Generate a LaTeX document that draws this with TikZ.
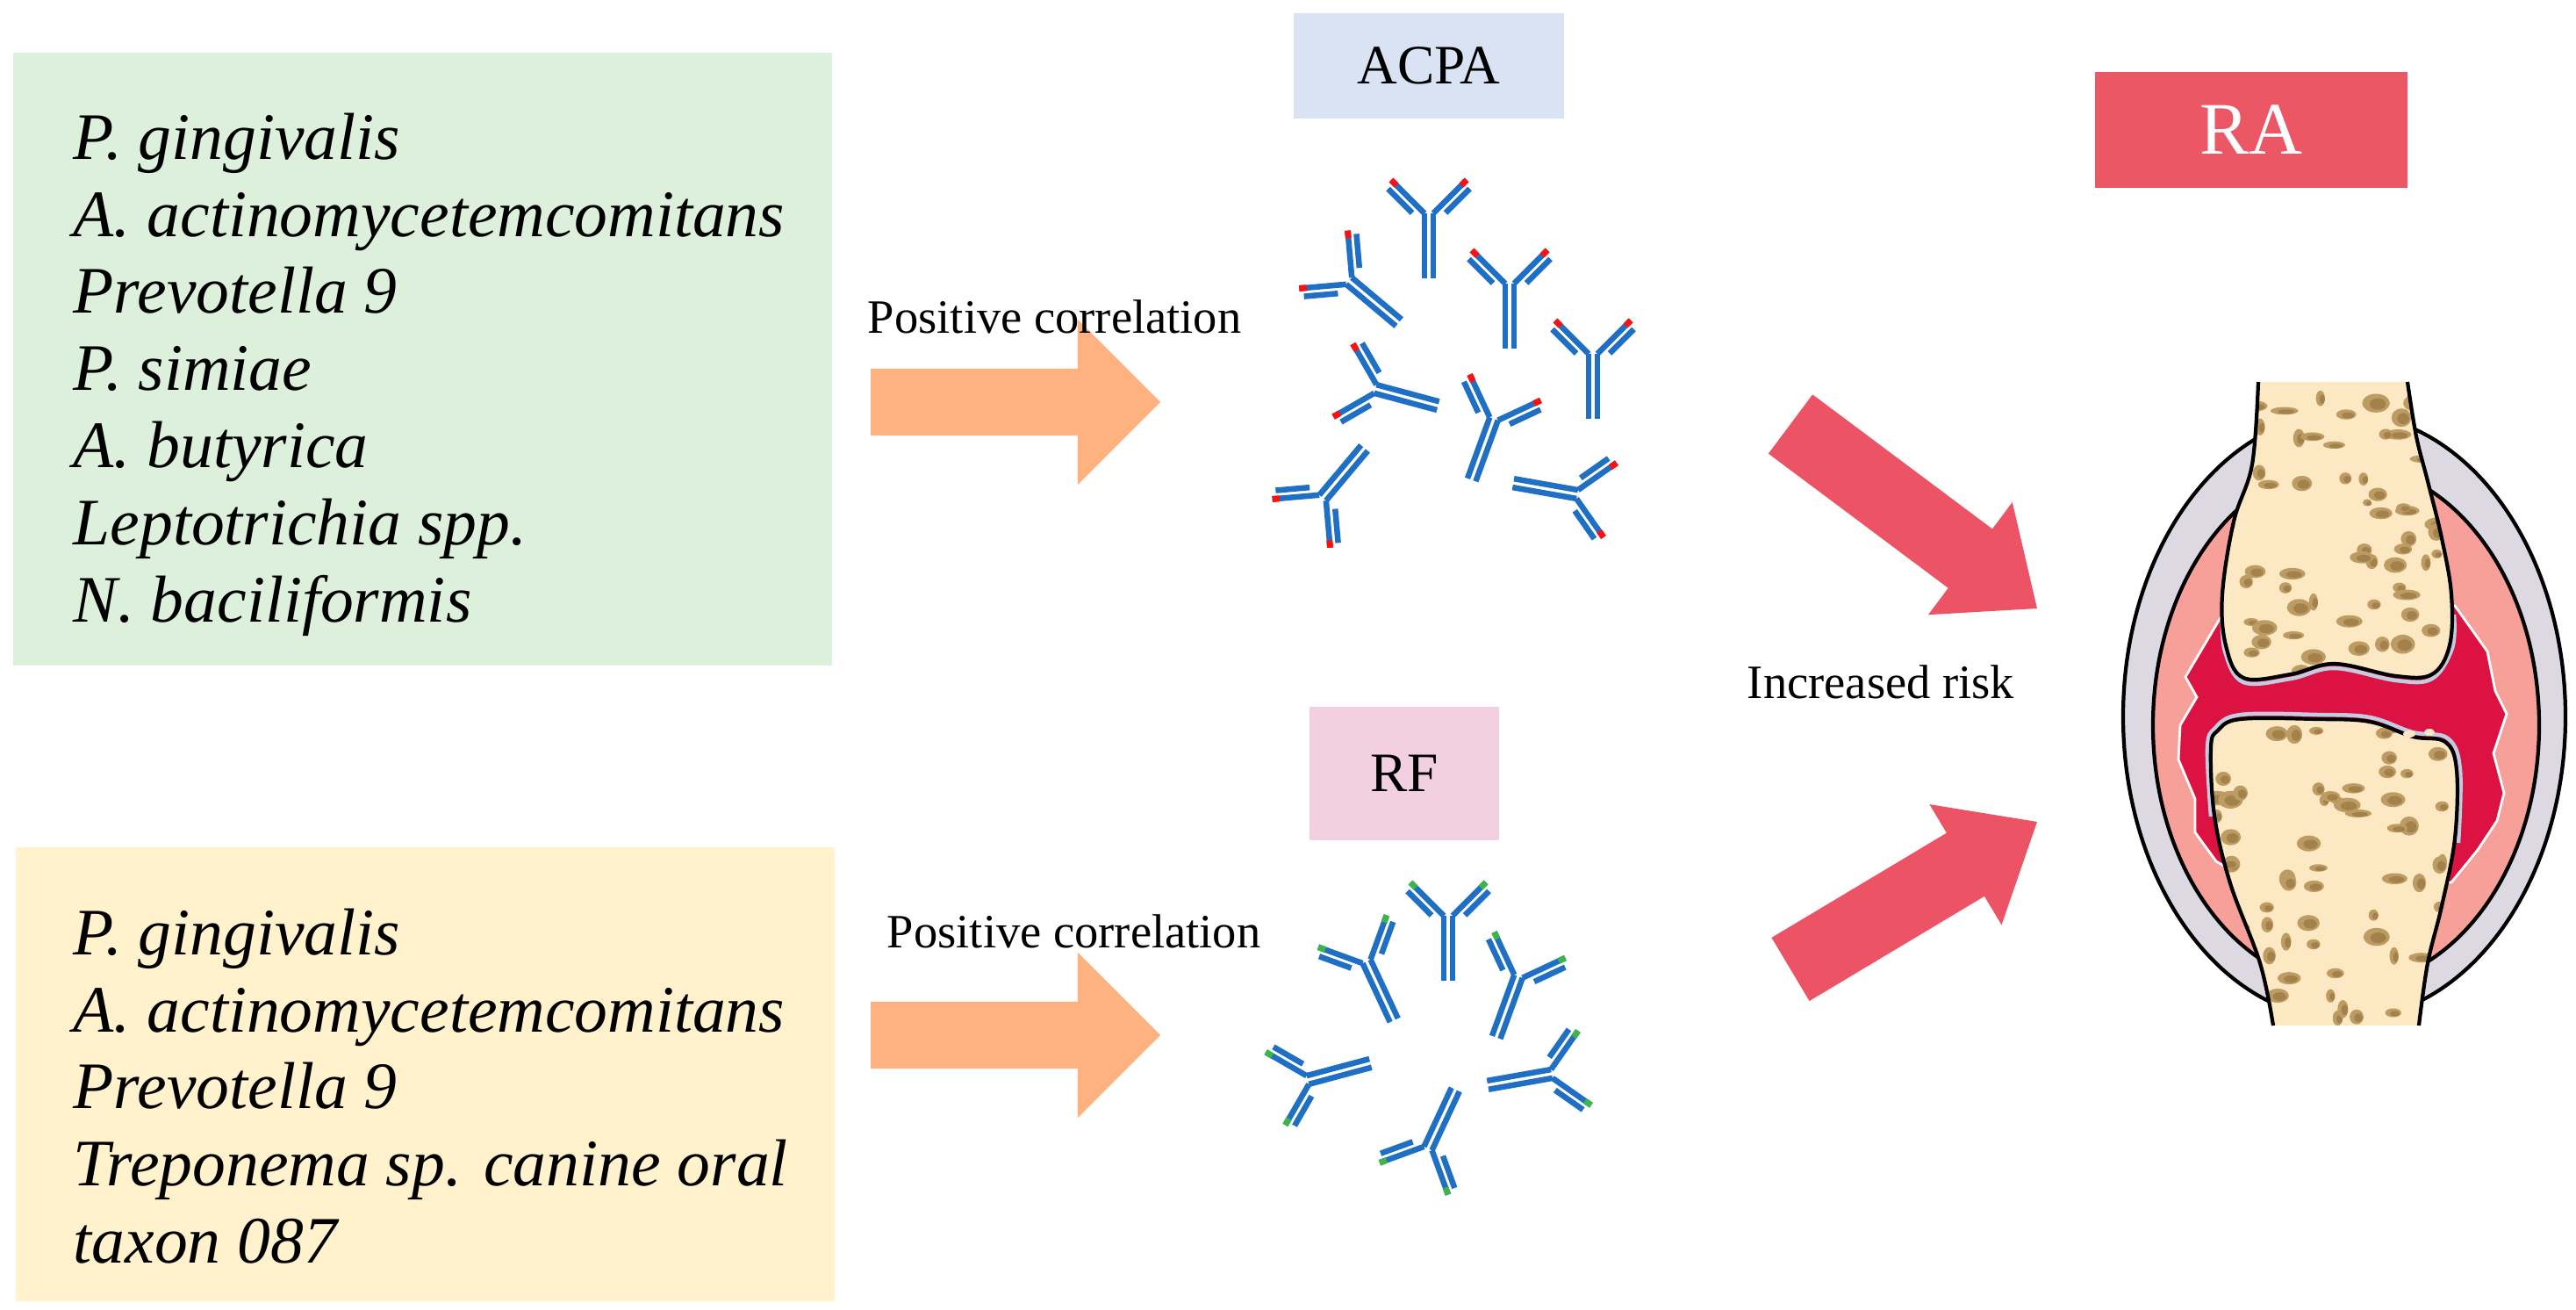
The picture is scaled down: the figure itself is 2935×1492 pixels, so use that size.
\documentclass[tikz,border=0pt]{standalone}
\usepackage{fontspec}
\setmainfont{Liberation Serif}
\usetikzlibrary{calc}
\definecolor{gbox}{HTML}{DDF0DC}
\definecolor{ybox}{HTML}{FFF2CC}
\definecolor{acpabox}{HTML}{DAE3F3}
\definecolor{rfbox}{HTML}{F3D0DF}
\definecolor{rabox}{HTML}{EC5766}
\definecolor{orarr}{HTML}{FFB27F}
\definecolor{redarr}{HTML}{EC5466}
\definecolor{abblue}{HTML}{1F6FC5}
\definecolor{tipred}{HTML}{FF1010}
\definecolor{tipgreen}{HTML}{3DB54A}
\definecolor{capsule}{HTML}{DDD9E2}
\definecolor{synpink}{HTML}{F7A09A}
\definecolor{synred}{HTML}{DC1242}
\definecolor{bone}{HTML}{FCE9C4}
\definecolor{spotA}{HTML}{BC9C62}
\definecolor{spotB}{HTML}{8E6C38}
\definecolor{cart}{HTML}{C4CAE0}
\newcommand\blockarr[6]{%
  \coordinate (ba-N) at ($(#2)!#5!(#1)$);
  \fill[#6] ($(#1)!#3!90:(#2)$) -- ($(ba-N)!#3!90:(#2)$) -- ($(ba-N)!#4!90:(#2)$)
    -- (#2) -- ($(ba-N)!#4!-90:(#2)$) -- ($(ba-N)!#3!-90:(#2)$) -- ($(#1)!#3!-90:(#2)$) -- cycle;}
\tikzset{
  species/.style={align=left,anchor=north west,font=\fontsize{21.5}{25}\selectfont\itshape,inner sep=0pt},
  lbl/.style={font=\fontsize{15.5}{17}\selectfont,inner sep=0pt},
  abl/.style={abblue,line width=0.065cm,line cap=butt},
  pics/ab/.style={code={
    \draw[abl] (-5,0)--(-5,74) (5,0)--(5,74);
    \draw[abl] (5,0)--(43,-38) (19,-0.5)--(46.5,-28);
    \draw[abl] (-5,0)--(-43,-38) (-19,-0.5)--(-46.5,-28);
    \draw[#1,line width=0.07cm] (37,-32)--(43,-38) (-37,-32)--(-43,-38);
  }}
}
\def\upperbone{plot[smooth,tension=0.6] coordinates {(2573,435) (2566,529) (2545,594) (2532,677) (2536,735) (2556,772) (2610,768) (2660,756) (2730,770) (2771,768) (2791,735) (2793,677) (2782,613) (2766,548) (2753,497) (2743,435)}}
\def\lowerbone{plot[smooth,tension=0.6] coordinates {(2756,1168) (2766,1097) (2782,1032) (2797,955) (2799,877) (2786,845) (2749,839) (2700,822) (2640,819) (2553,819) (2527,832) (2519,852) (2523,929) (2541,1006) (2575,1097) (2590,1168)}}
\begin{document}
\begin{tikzpicture}[x=0.01cm,y=-0.01cm]
\useasboundingbox (0,0) rectangle (2935,1492);
% boxes
\fill[gbox] (15,60) rectangle (948,758);
\fill[ybox] (18,965) rectangle (951,1482);
\node[species] (g) at (83,128) {P. gingivalis\\A.\ actinomycetemcomitans\\Prevotella 9\\P. simiae\\A. butyrica\\Leptotrichia spp.\\N. baciliformis};
\node[species] (y) at (83,1034) {P. gingivalis\\A.\ actinomycetemcomitans\\Prevotella 9\\Treponema sp. canine oral\\taxon 087};
\node[fill=acpabox,minimum width=3.07cm,minimum height=1.2cm,font=\fontsize{18}{20}\selectfont] (acpa) at (1628,75) {ACPA};
\node[fill=rfbox,minimum width=2.15cm,minimum height=1.52cm,font=\fontsize{18}{20}\selectfont] (rf) at (1600,881) {RF};
\node[fill=rabox,text=white,minimum width=3.56cm,minimum height=1.31cm,font=\fontsize{24}{26}\selectfont] (ra) at (2565,148) {RA};
% orange arrows
\coordinate (o1s) at (992,458); \coordinate (o1e) at (1322,458);
\coordinate (o2s) at (992,1179); \coordinate (o2e) at (1322,1179);
\blockarr{o1s}{o1e}{0.38cm}{0.94cm}{0.94cm}{orarr}
\blockarr{o2s}{o2e}{0.38cm}{0.94cm}{0.94cm}{orarr}
\node[lbl,anchor=base east] (pc1) at (1415,380) {Positive correlation};
\node[lbl,anchor=base east] (pc2) at (1437,1080) {Positive correlation};
% red arrows
\coordinate (r1s) at (2040,483); \coordinate (r1e) at (2321,693);
\coordinate (r2s) at (2040,1104); \coordinate (r2e) at (2321,936);
\blockarr{r1s}{r1e}{0.42cm}{0.8cm}{0.95cm}{redarr}
\blockarr{r2s}{r2e}{0.42cm}{0.8cm}{0.95cm}{redarr}
\node[lbl] (risk) at (2143,777) {Increased risk};
% ACPA antibodies
\pic[rotate=0] at (1628,243) {ab=tipred};
\pic[rotate=0] at (1720,323) {ab=tipred};
\pic[rotate=0] at (1815,403) {ab=tipred};
\pic[rotate=50] at (1537,320) {ab=tipred};
\pic[rotate=75] at (1567,443) {ab=tipred};
\pic[rotate=-20] at (1702,477) {ab=tipred};
\pic[rotate=140] at (1507,567) {ab=tipred};
\pic[rotate=-100] at (1797,563) {ab=tipred};
% RF antibodies
\pic[rotate=0] at (1650,1043) {ab=tipgreen};
\pic[rotate=25] at (1557,1095) {ab=tipgreen};
\pic[rotate=-20] at (1730,1112) {ab=tipgreen};
\pic[rotate=105] at (1490,1230) {ab=tipgreen};
\pic[rotate=-80] at (1768,1223) {ab=tipgreen};
\pic[rotate=155] at (1627,1308) {ab=tipgreen};
% joint
\filldraw[fill=capsule,draw=black,line width=1.2pt] (2671,816) ellipse [x radius=252,y radius=345];
\filldraw[fill=synpink,draw=black,line width=1.2pt] (2673,826) ellipse [x radius=220,y radius=297];
\filldraw[fill=synred,draw=white,line width=0.8pt] (2532,700) -- (2490,771) -- (2503,794) -- (2484,826) -- (2482,865) -- (2501,910) -- (2501,948) -- (2525,981) -- (2540,990)
  -- (2793,1005) -- (2823,968) -- (2845,935) -- (2853,903) -- (2841,858) -- (2856,813) -- (2843,787) -- (2834,742) -- (2797,690) -- cycle;
% cartilage
\draw[cart,line width=0.045cm] plot[smooth,tension=0.6] coordinates {(2532,700) (2535,742) (2556,777) (2610,773) (2660,761) (2730,775) (2771,773) (2794,738) (2796,700)};
\draw[cart,line width=0.045cm] plot[smooth,tension=0.6] coordinates {(2801,960) (2803,877) (2789,841) (2749,834) (2700,817) (2640,814) (2553,814) (2524,829) (2515,852) (2519,930)};
% bones
\fill[bone] \upperbone -- cycle;
\fill[bone] \lowerbone -- cycle;
\begin{scope}
\clip \upperbone -- cycle;
\pgfmathsetseed{11}
\foreach \i in {1,...,60}{
  \pgfmathsetmacro\px{2662+125*rand}\pgfmathsetmacro\py{608+160*rand}
  \pgfmathsetmacro\rx{5+11*rnd}\pgfmathsetmacro\ry{4+7*rnd}
  \fill[spotA] (\px,\py) ellipse [x radius=\rx,y radius=\ry];
  \fill[spotB,opacity=0.55] (\px+2,\py+1) ellipse [x radius=0.6*\rx,y radius=0.6*\ry];}
\end{scope}
\begin{scope}
\clip \lowerbone -- cycle;
\pgfmathsetseed{23}
\foreach \i in {1,...,65}{
  \pgfmathsetmacro\px{2660+135*rand}\pgfmathsetmacro\py{995+165*rand}
  \pgfmathsetmacro\rx{5+11*rnd}\pgfmathsetmacro\ry{4+7*rnd}
  \fill[spotA] (\px,\py) ellipse [x radius=\rx,y radius=\ry];
  \fill[spotB,opacity=0.55] (\px+2,\py+1) ellipse [x radius=0.6*\rx,y radius=0.6*\ry];}
\end{scope}
\draw[black,line width=1.2pt] \upperbone;
\draw[black,line width=1.2pt] \lowerbone;
\fill[bone] (2745,836) ellipse [x radius=7,y radius=4] (2768,834) ellipse [x radius=6,y radius=4];
\end{tikzpicture}
\end{document}
